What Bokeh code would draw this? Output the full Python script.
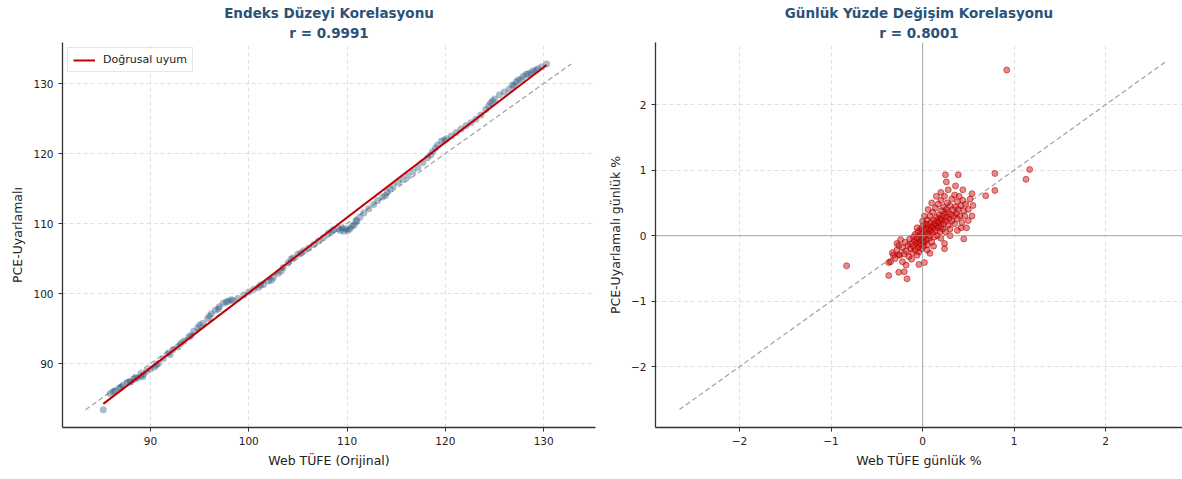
import numpy as np
from bokeh.plotting import figure
from bokeh.layouts import row
from bokeh.models import Range1d, Span, FixedTicker, Legend, LegendItem, Title
from bokeh.embed import file_html
from bokeh.resources import INLINE

# ---- Left panel data: index levels ----
web_level = [85.2, 85.9, 86.4, 86.8, 87.2, 87.6, 87.9, 88.3, 88.7, 89.0,
             89.3, 89.6, 90.0, 90.4, 90.8, 91.3, 91.8, 92.3, 92.8, 93.4,
             93.9, 94.4, 94.8, 95.3, 95.8, 96.2, 96.6, 97.0, 97.4, 97.9,
             98.4, 98.9, 99.5, 100.0, 100.5, 101.0, 101.5, 102.0, 102.5, 103.0,
             103.5, 104.0, 104.5, 105.0, 105.6, 106.1, 106.6, 107.1, 107.6, 108.1,
             108.6, 109.1, 109.5, 109.9, 110.3, 110.7, 111.0, 111.3, 111.7, 112.2,
             112.7, 113.1, 113.6, 114.1, 114.7, 115.2, 115.7, 116.2, 116.7, 117.2,
             117.7, 118.2, 118.7, 119.2, 119.6, 120.1, 120.6, 121.1, 121.6, 122.1,
             122.6, 123.1, 123.6, 124.1, 124.6, 125.0, 125.5, 126.0, 126.5, 127.0,
             127.4, 127.9, 128.4, 128.9, 129.4, 129.8, 130.3,
             86.2, 87.0, 88.0, 88.5, 89.2, 90.6, 92.0, 93.1, 94.1, 95.0,
             96.0, 96.9, 97.7, 98.2, 101.2, 102.3, 103.3, 104.3, 105.3, 108.4,
             109.3, 109.7, 110.1, 110.5, 110.9, 113.9, 114.4, 118.5, 119.0, 119.9,
             124.4, 124.8, 126.8, 127.2, 127.7, 128.2, 128.7, 129.2]
pce_level = [83.4, 85.7, 86.1, 86.5, 86.9, 87.3, 87.4, 87.7, 88.0, 88.3,
             88.5, 88.9, 89.2, 89.5, 90.0, 90.7, 91.5, 92.0, 92.4, 93.2,
             93.8, 94.6, 95.1, 95.7, 96.4, 97.1, 97.6, 98.1, 98.6, 98.9,
             99.0, 99.3, 99.8, 100.2, 100.6, 100.9, 101.3, 101.8, 102.3, 102.9,
             103.7, 104.4, 105.1, 105.6, 106.1, 106.5, 107.0, 107.5, 108.0, 108.6,
             109.1, 109.3, 109.4, 109.2, 109.3, 109.8, 110.4, 110.9, 111.5, 112.1,
             112.7, 113.3, 113.8, 114.5, 115.4, 115.9, 116.3, 116.8, 117.4, 118.0,
             118.7, 119.4, 120.3, 121.2, 121.8, 122.1, 122.5, 123.0, 123.5, 124.0,
             124.4, 124.9, 125.5, 126.3, 127.2, 127.8, 128.4, 128.8, 129.2, 129.7,
             130.5, 131.0, 131.4, 131.8, 132.1, 132.4, 132.8,
             86.0, 86.6, 87.4, 87.9, 88.1, 89.8, 91.3, 92.9, 94.0, 95.5,
             96.8, 97.8, 98.8, 99.1, 101.2, 101.9, 103.2, 104.9, 105.8, 108.8,
             109.0, 108.9, 109.0, 109.6, 110.2, 114.0, 114.9, 119.8, 120.8, 121.9,
             126.8, 127.5, 129.8, 130.2, 130.6, 131.3, 131.5, 131.9]

# ---- Right panel data: daily % changes ----
web_daily = [-0.30, -0.28, -0.25, -0.22, -0.20, -0.19, -0.18, -0.16, -0.15, -0.14,
             -0.13, -0.12, -0.11, -0.10, -0.10, -0.09, -0.08, -0.08, -0.07, -0.06,
             -0.06, -0.05, -0.05, -0.04, -0.04, -0.03, -0.03, -0.02, -0.02, -0.01,
             -0.01, 0.00, 0.00, 0.01, 0.01, 0.02, 0.02, 0.03, 0.03, 0.04,
             0.04, 0.05, 0.05, 0.06, 0.06, 0.07, 0.07, 0.08, 0.08, 0.09,
             0.09, 0.10, 0.10, 0.11, 0.11, 0.12, 0.12, 0.13, 0.13, 0.14,
             0.14, 0.15, 0.15, 0.16, 0.16, 0.17, 0.17, 0.18, 0.18, 0.19,
             0.19, 0.20, 0.20, 0.21, 0.21, 0.22, 0.22, 0.23, 0.23, 0.24,
             0.24, 0.25, 0.25, 0.26, 0.26, 0.27, 0.28, 0.28, 0.29, 0.30,
             0.30, 0.31, 0.32, 0.32, 0.33, 0.34, 0.35, 0.35, 0.36, 0.37,
             0.38, 0.38, 0.39, 0.40, 0.41, 0.42, 0.43, 0.44, 0.45, 0.46,
             0.47, 0.48, 0.50, 0.52, 0.54, 0.55, -0.22, -0.18, -0.12, -0.28,
             -0.24, 0.06, 0.02, 0.10, 0.15, 0.20, 0.28, 0.36, 0.26, 0.44,
             -0.33, -0.35, 0.00, -0.06, 0.05, 0.12, 0.20, 0.30, 0.38, 0.42,
             0.92, -0.83, 0.25, 0.39, 0.79, 1.17, 1.13, 0.79, 0.69, 0.54,
             0.45, 0.50, 0.24, 0.24, 0.08, 0.02, -0.04, -0.37, -0.37, -0.26,
             -0.20, -0.17, -0.26, -0.26, -0.32]
pce_daily = [-0.35, -0.22, -0.30, -0.18, -0.28, -0.10, -0.24, -0.15, -0.32, -0.05,
             -0.20, -0.12, -0.26, -0.02, -0.16, -0.08, -0.22, 0.02, -0.12, -0.30,
             -0.04, -0.18, 0.06, -0.10, -0.25, 0.00, -0.14, 0.10, -0.06, -0.20,
             0.04, -0.08, 0.14, -0.02, -0.16, 0.08, -0.10, 0.18, 0.02, -0.06,
             0.12, -0.14, 0.24, 0.04, 0.16, -0.04, 0.10, 0.30, 0.00, 0.20,
             0.08, -0.10, 0.14, 0.36, 0.04, 0.24, 0.12, -0.02, 0.18, 0.42,
             0.08, 0.28, 0.16, 0.00, 0.22, 0.48, 0.12, 0.32, 0.20, 0.06,
             0.26, 0.54, 0.14, 0.38, 0.24, 0.10, 0.30, 0.44, 0.18, 0.60,
             0.34, 0.22, 0.06, 0.40, 0.28, 0.50, 0.16, 0.36, 0.26, 0.46,
             0.10, 0.32, 0.56, 0.22, 0.40, 0.30, 0.62, 0.18, 0.44, 0.34,
             0.52, 0.26, 0.40, 0.60, 0.30, 0.46, 0.20, 0.54, 0.38, 0.30,
             0.48, 0.12, 0.40, 0.56, 0.30, 0.46, -0.40, -0.45, -0.36, -0.12,
             -0.06, 0.40, 0.30, 0.50, 0.60, 0.66, 0.70, 0.76, 0.82, 0.70,
             -0.26, -0.40, 0.22, 0.12, -0.22, -0.16, -0.04, 0.00, 0.08, 0.12,
             2.53, -0.46, 0.93, 0.93, 0.95, 1.01, 0.86, 0.69, 0.61, 0.64,
             -0.05, 0.23, -0.12, -0.20, -0.27, -0.41, -0.44, -0.41, -0.61, -0.56,
             -0.55, -0.66, -0.29, -0.15, -0.30]

level_ticks = [90, 100, 110, 120, 130]
daily_ticks = [-2, -1, 0, 1, 2]

TITLE_COLOR = "#2b5279"
FONT = "DejaVu Sans"
RED = "#c00000"
BLUE = "#1f4e79"


def style(p, xticks, yticks, xlabel, ylabel):
    p.outline_line_color = None
    for ax in (p.xaxis[0], p.yaxis[0]):
        ax.axis_line_color = "#333333"
        ax.axis_line_width = 1.3
        ax.major_tick_line_color = "#333333"
        ax.major_tick_out = 4
        ax.major_tick_in = 0
        ax.minor_tick_line_color = None
        ax.major_label_text_font = FONT
        ax.major_label_text_font_size = "10.5px"
        ax.major_label_text_color = "#222222"
        ax.axis_label_text_font = FONT
        ax.axis_label_text_font_size = "12.5px"
        ax.axis_label_text_font_style = "normal"
        ax.axis_label_text_color = "#222222"
    p.xaxis[0].ticker = FixedTicker(ticks=xticks)
    p.yaxis[0].ticker = FixedTicker(ticks=yticks)
    p.xaxis[0].axis_label = xlabel
    p.yaxis[0].axis_label = ylabel
    for g in (p.xgrid[0], p.ygrid[0]):
        g.grid_line_color = "#cccccc"
        g.grid_line_alpha = 0.6
        g.grid_line_dash = "4 3"
        g.grid_line_width = 1
    p.xgrid[0].ticker = FixedTicker(ticks=xticks)
    p.ygrid[0].ticker = FixedTicker(ticks=yticks)


def titles(p, main, sub):
    p.title.text = main
    p.title.align = "center"
    p.title.text_font = FONT
    p.title.text_font_size = "13.5px"
    p.title.text_font_style = "bold"
    p.title.text_color = TITLE_COLOR
    p.title.standoff = 0
    t = Title(text=sub, align="center", text_font=FONT, text_font_size="13.5px",
              text_font_style="bold", text_color=TITLE_COLOR, standoff=4)
    p.add_layout(t, "above")


# ---------------- Left panel ----------------
p1 = figure(width=600, height=479, output_backend="svg", toolbar_location=None,
            x_range=Range1d(81.05, 135.27), y_range=Range1d(80.86, 135.86),
            min_border_left=62, min_border_right=5, min_border_top=42, min_border_bottom=52,
            background_fill_color="white", border_fill_color="white")
titles(p1, "Endeks Düzeyi Korelasyonu", "r = 0.9991")
style(p1, level_ticks, level_ticks, "Web TÜFE (Orijinal)", "PCE-Uyarlamalı")

wl = np.array(web_level)
pl = np.array(pce_level)
lo = min(wl.min(), pl.min())
hi = max(wl.max(), pl.max())
p1.line([lo, hi], [lo, hi], line_color="#888888", line_alpha=0.8, line_dash="5 3", line_width=1.2)
p1.scatter(web_level, pce_level, size=7, fill_color=BLUE, fill_alpha=0.38,
           line_color=None)
m, b = np.polyfit(wl, pl, 1)
fx = np.array([wl.min(), wl.max()])
fit = p1.line(fx, m * fx + b, line_color=RED, line_width=2)
leg = Legend(items=[LegendItem(label="Doğrusal uyum", renderers=[fit])], location="top_left",
             label_text_font=FONT, label_text_font_size="11px", label_text_color="#222222",
             border_line_color="#cccccc", border_line_width=1, background_fill_alpha=0.9,
             glyph_width=22, glyph_height=12, padding=5, spacing=0, margin=5,
             label_standoff=8)
p1.add_layout(leg)

# ---------------- Right panel ----------------
p2 = figure(width=582, height=479, output_backend="svg", toolbar_location=None,
            x_range=Range1d(-2.918, 2.84), y_range=Range1d(-2.93, 2.95),
            min_border_left=55, min_border_right=0, min_border_top=42, min_border_bottom=52,
            background_fill_color="white", border_fill_color="white")
titles(p2, "Günlük Yüzde Değişim Korelasyonu", "r = 0.8001")
style(p2, daily_ticks, daily_ticks, "Web TÜFE günlük %", "PCE-Uyarlamalı günlük %")
overrides = {t: (("−" + str(abs(t))) if t < 0 else str(t)) for t in daily_ticks}
p2.xaxis[0].major_label_overrides = overrides
p2.yaxis[0].major_label_overrides = overrides

p2.add_layout(Span(location=0, dimension="width", line_color="#999999", line_width=1.2, line_alpha=0.7))
p2.add_layout(Span(location=0, dimension="height", line_color="#999999", line_width=1.2, line_alpha=0.7))
wd = np.array(web_daily)
pd_ = np.array(pce_daily)
lim = max(np.abs(wd).max(), np.abs(pd_).max()) * 1.05
p2.line([-lim, lim], [-lim, lim], line_color="#888888", line_alpha=0.8, line_dash="5 3", line_width=1.2)
p2.scatter(web_daily, pce_daily, size=6, fill_color=RED, fill_alpha=0.45,
           line_color=RED, line_alpha=0.55)

layout = row(p1, p2)
open("out.html", "w").write(file_html(layout, INLINE))
